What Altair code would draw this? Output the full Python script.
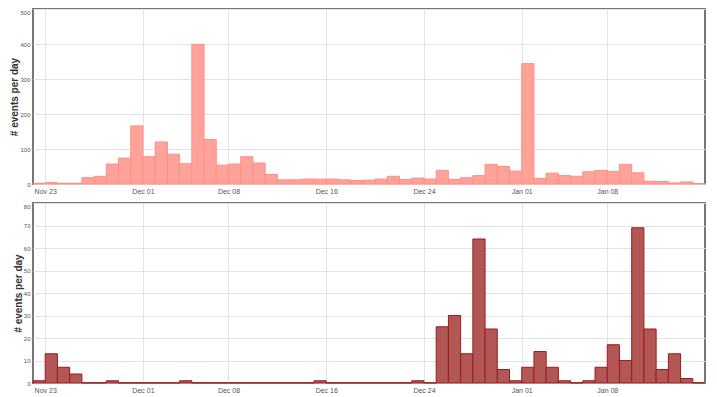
import altair as alt
import pandas as pd

# Daily counts, Nov 22 .. Jan 15
start_date = "2013-11-22"
top_counts = [2, 4, 2, 2, 18, 22, 57, 74, 166, 78, 120, 85, 58, 399, 127, 54, 57, 78, 60, 27,
              12, 12, 14, 14, 14, 12, 10, 11, 14, 22, 13, 17, 14, 39, 13, 18, 24, 56, 50, 37,
              344, 16, 31, 24, 22, 35, 39, 36, 56, 32, 8, 7, 3, 6, 1]
bottom_counts = [1, 13, 7, 4, 0, 0, 1, 0, 0, 0, 0, 0, 1, 0, 0, 0, 0, 0, 0, 0,
                 0, 0, 0, 1, 0, 0, 0, 0, 0, 0, 0, 1, 0, 25, 30, 13, 64, 24, 6, 1,
                 7, 14, 7, 1, 0, 1, 7, 17, 10, 69, 24, 6, 13, 2, 0]
tick_dates = ["2013-11-23", "2013-12-01", "2013-12-08", "2013-12-16",
              "2013-12-24", "2014-01-01", "2014-01-08"]
y_title = "# events per day"

days = pd.date_range(start_date, periods=len(top_counts), freq="D")
df = pd.DataFrame({
    "start": days.strftime("%Y-%m-%d"),
    "end": (days + pd.Timedelta(days=1)).strftime("%Y-%m-%d"),
    "top": top_counts,
    "bottom": bottom_counts,
})

def dt(s):
    y, m, d = map(int, s.split("-"))
    return alt.DateTime(year=y, month=m, date=d, utc=True)

x_domain = [dt("2013-11-22"), dt("2014-01-16")]
tick_vals = [dt(s) for s in tick_dates]

def x_enc():
    return alt.X("start:T", title=None,
                 scale=alt.Scale(type="utc", domain=x_domain),
                 axis=alt.Axis(values=tick_vals, grid=True, ticks=False, tickSize=0,
                               domain=False, labelPadding=3, labelFontSize=7,
                               labelExpr="utcFormat(datum.value, '%b %d')"))

def panel(field, ymax, step, fill, stroke, h):
    return alt.Chart(df).mark_bar(fill=fill, stroke=stroke, strokeWidth=1).encode(
        x=x_enc(),
        x2="end:T",
        y=alt.Y(f"{field}:Q", title=y_title,
                scale=alt.Scale(domain=[0, ymax], nice=False),
                axis=alt.Axis(values=list(range(0, ymax + 1, step)), grid=True,
                              ticks=False, tickSize=0, domain=False,
                              labelPadding=3, titlePadding=0, labelFontSize=6,
                              labelBaseline={"condition": {"test": f"datum.value == {ymax}", "value": "top"},
                                             "value": "middle"})),
        y2=alt.datum(0),
    ).properties(width=672, height=h)

top = panel("top", 500, 100, "#ffa39a", "#ff8f85", 175)
bottom = panel("bottom", 80, 10, "#b35656", "#991e1e", 180)

chart = alt.vconcat(top, bottom, spacing=7).properties(
    padding={"left": 0, "top": 0, "right": 2, "bottom": 0}
).configure_view(
    stroke="#777777", strokeWidth=2
).configure_axis(
    labelFont="Liberation Sans", labelColor="#555555",
    titleFont="Liberation Sans", titleFontSize=10, titleFontWeight="bold", titleColor="#333333",
    gridColor="#e3e3e3", gridWidth=1
)

chart.save("out.html", embed_options={"renderer": "svg", "actions": False})
